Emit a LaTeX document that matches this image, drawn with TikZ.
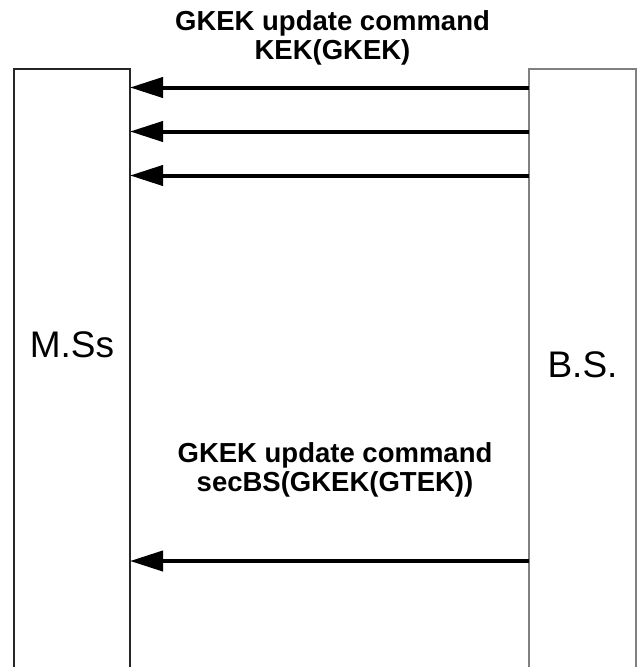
\documentclass[tikz,border=0pt]{standalone}
\usepackage{fontspec}
\setmainfont{Liberation Sans}
\usetikzlibrary{arrows.meta}
\tikzset{
  entity/.style={draw, rectangle, inner sep=0pt, outer sep=0pt, line width=2pt},
  msgline/.style={line width=4pt, -{Triangle[length=33pt,width=20pt]}},
  msglabel/.style={align=center, inner sep=0pt, font=\bfseries\fontsize{27.5}{29}\selectfont},
  entname/.style={inner sep=0pt, font=\fontsize{37}{40}\selectfont}
}
\begin{document}
\begin{tikzpicture}[x=1pt,y=-1pt]
\useasboundingbox[fill=white] (0,0) rectangle (638,667);
% entities (extend past the lower border)
\node[entity, draw=black!85, minimum width=116pt, minimum height=631pt] (msbox) at (72,384.5) {};
\node[entity, draw=black!50, minimum width=107pt, minimum height=631pt] (bsbox) at (582.5,384.5) {};
\node[entname, anchor=base] (ms) at (72,357) {M.Ss};
\node[entname, anchor=base] (bs) at (582.5,377) {B.S.};
% message rows
\coordinate (r1) at (0,87.5);
\coordinate (r2) at (0,131.5);
\coordinate (r3) at (0,175.5);
\coordinate (r4) at (0,561);
\draw[msgline] (bsbox.west |- r1) -- (msbox.east |- r1);
\draw[msgline] (bsbox.west |- r2) -- (msbox.east |- r2);
\draw[msgline] (bsbox.west |- r3) -- (msbox.east |- r3);
\draw[msgline] (bsbox.west |- r4) -- (msbox.east |- r4);
% labels
\node[msglabel] (l1) at (332.5,37.5) {GKEK update command\\KEK(GKEK)};
\node[msglabel] (l2) at (335,470) {GKEK update command\\secBS(GKEK(GTEK))};
\end{tikzpicture}
\end{document}
